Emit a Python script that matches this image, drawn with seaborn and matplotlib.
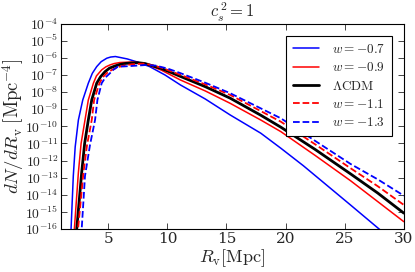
import numpy as np
import pandas as pd
import matplotlib
matplotlib.use("Agg")
import matplotlib.pyplot as plt
import seaborn as sns

# values (R_v in Mpc, log10 of dN/dR_v)
r_w07 = [1.6, 1.85, 2.04, 2.2, 2.47, 2.84, 3.31, 3.65, 4.02, 4.4, 4.87, 5.2, 5.6, 6.6, 7.5, 8.5, 9.8, 11.1, 13.2, 15.3, 17.9, 19.6, 21.5, 23.5, 25.5, 28.0, 28.5]
lg_w07 = [-17.0, -16.0, -12.9, -11.2, -9.63, -8.46, -7.48, -6.9, -6.51, -6.22, -6.02, -5.95, -5.92, -6.06, -6.25, -6.51, -7.0, -7.58, -8.4, -9.33, -10.4, -11.28, -12.3, -13.45, -14.6, -16.05, -16.4]

r_w09 = [1.9, 2.13, 2.47, 2.7, 3.03, 3.31, 3.74, 4.0, 4.44, 4.8, 5.15, 5.5, 6.0, 7.0, 8.1, 9.5, 11.1, 13.2, 15.3, 17.9, 19.6, 22.5, 25.5, 27.8, 30.0]
lg_w09 = [-17.0, -16.0, -12.7, -11.0, -9.63, -8.46, -7.48, -7.05, -6.7, -6.52, -6.41, -6.33, -6.27, -6.24, -6.33, -6.72, -7.29, -7.93, -8.65, -9.63, -10.31, -11.7, -13.18, -14.4, -15.57]

r_lcdm = [2.1, 2.33, 2.75, 3.0, 3.31, 3.6, 4.02, 4.35, 4.73, 5.1, 5.58, 6.0, 6.5, 7.5, 8.1, 9.5, 11.1, 13.2, 15.3, 17.9, 19.6, 22.5, 25.5, 27.8, 30.0]
lg_lcdm = [-17.0, -16.0, -12.7, -11.0, -9.63, -8.46, -7.48, -7.1, -6.8, -6.6, -6.47, -6.38, -6.32, -6.28, -6.33, -6.62, -7.08, -7.68, -8.35, -9.35, -10.05, -11.35, -12.78, -13.9, -15.07]

r_w11 = [2.2, 2.44, 2.9, 3.2, 3.6, 3.8, 4.25, 4.55, 4.87, 5.3, 5.8, 6.3, 7.0, 8.1, 9.5, 11.1, 13.2, 15.3, 19.6, 22.5, 25.5, 27.8, 30.0]
lg_w11 = [-17.0, -16.0, -12.7, -11.1, -9.63, -8.46, -7.48, -7.12, -6.89, -6.7, -6.55, -6.45, -6.37, -6.33, -6.57, -6.99, -7.55, -8.16, -9.73, -11.05, -12.45, -13.5, -14.59]

r_w13 = [2.5, 2.75, 3.03, 3.45, 3.88, 4.08, 4.44, 4.75, 5.15, 5.45, 5.83, 6.3, 7.0, 8.1, 9.0, 10.0, 11.1, 13.2, 15.3, 19.6, 22.5, 25.5, 27.8, 30.0]
lg_w13 = [-17.0, -16.0, -12.9, -11.1, -9.63, -8.46, -7.48, -7.15, -6.89, -6.68, -6.51, -6.5, -6.47, -6.42, -6.45, -6.62, -6.89, -7.45, -8.06, -9.53, -10.85, -12.2, -13.1, -14.05]

labels = [r"$w=-0.7$", r"$w=-0.9$", r"$\Lambda{\rm CDM}$", r"$w=-1.1$", r"$w=-1.3$"]
radii = [r_w07, r_w09, r_lcdm, r_w11, r_w13]
logs = [lg_w07, lg_w09, lg_lcdm, lg_w11, lg_w13]
colors = ["blue", "red", "black", "red", "blue"]
styles = ["-", "-", "-", "--", "--"]
widths = [1.1, 1.1, 2.0, 1.3, 1.3]

x_ticks = [5, 10, 15, 20, 25, 30]
y_exps = list(range(-16, -3))

sns.set_style("ticks")
plt.rcParams["font.family"] = ["serif"]
plt.rcParams["mathtext.fontset"] = "cm"
plt.rcParams["xtick.direction"] = "in"
plt.rcParams["ytick.direction"] = "in"

fig = plt.figure(figsize=(4.15, 2.72), dpi=100)
ax = fig.add_axes([0.147, 0.158, 0.826, 0.755])

for r, lg, lab, c, ls, lw in zip(radii, logs, labels, colors, styles, widths):
    df = pd.DataFrame({"R": r, "N": np.power(10.0, lg)})
    sns.lineplot(data=df, x="R", y="N", ax=ax, color=c, linestyle=ls, linewidth=lw,
                 label=lab, sort=False, estimator=None)

ax.set_yscale("log")
ax.set_xlim(1, 30)
ax.set_ylim(1e-16, 1e-4)
ax.set_xticks(x_ticks)
ax.set_xticklabels([str(t) for t in x_ticks], fontsize=11)
ax.set_yticks([10.0 ** e for e in y_exps])
ax.set_yticklabels([r"$10^{%d}$" % e for e in y_exps], fontsize=9.8)
ax.minorticks_off()
ax.tick_params(which="both", top=True, right=True, length=4, width=0.6, pad=2)
for s in ax.spines.values():
    s.set_linewidth(0.8)
    s.set_color("black")

ax.set_xlabel(r"$R_{\rm v}[{\rm Mpc}]$", fontsize=13, labelpad=1)
ax.set_ylabel(r"$dN/dR_{\rm v}\;[{\rm Mpc}^{-4}]$", fontsize=13.5, labelpad=0)
ax.yaxis.set_label_coords(-0.103, 0.5)
ax.set_title(r"$c_s^{\,2}=1$", fontsize=12, pad=2)

leg = ax.legend(loc="upper right", fontsize=9.5, frameon=True, fancybox=False,
                edgecolor="black", handlelength=2.0, borderpad=0.5, labelspacing=0.4,
                handletextpad=1.0, bbox_to_anchor=(0.985, 0.97))
leg.get_frame().set_linewidth(0.8)
leg.get_frame().set_alpha(1)

fig.savefig("out.png", dpi=100)
